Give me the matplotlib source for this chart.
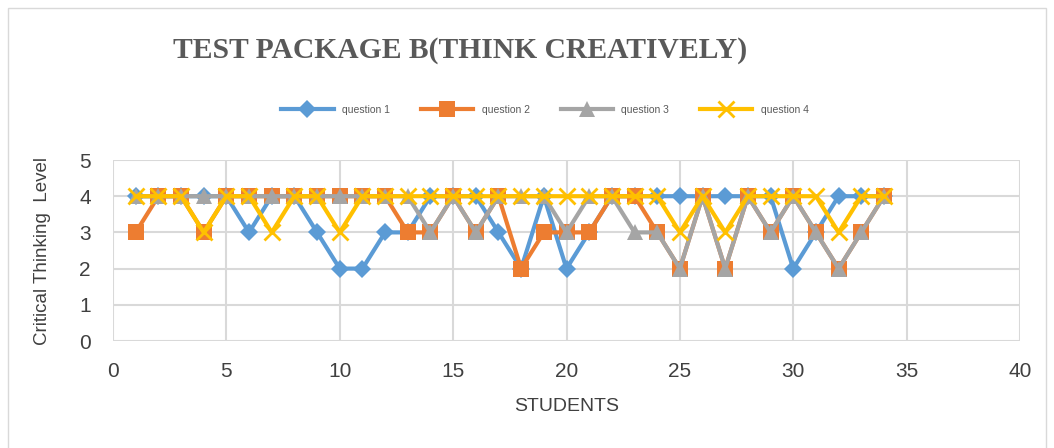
import numpy as np
import matplotlib.pyplot as plt

# data
students = list(range(1, 35))
q1 = [4, 4, 4, 4, 4, 3, 4, 4, 3, 2, 2, 3, 3, 4, 4, 4, 3, 2, 4, 2,
      3, 4, 4, 4, 4, 4, 4, 4, 4, 2, 3, 4, 4, 4]
q2 = [3, 4, 4, 3, 4, 4, 4, 4, 4, 4, 4, 4, 3, 3, 4, 3, 4, 2, 3, 3,
      3, 4, 4, 3, 2, 4, 2, 4, 3, 4, 3, 2, 3, 4]
q3 = [4, 4, 4, 4, 4, 4, 4, 4, 4, 4, 4, 4, 4, 3, 4, 3, 4, 4, 4, 3,
      4, 4, 3, 3, 2, 4, 2, 4, 3, 4, 3, 2, 3, 4]
q4 = [4, 4, 4, 3, 4, 4, 3, 4, 4, 3, 4, 4, 4, 4, 4, 4, 4, 4, 4, 4,
      4, 4, 4, 4, 3, 4, 3, 4, 4, 4, 4, 3, 4, 4]
labels = ["question 1", "question 2", "question 3", "question 4"]

colors = ["#5B9BD5", "#ED7D31", "#A5A5A5", "#FFC000"]
markers = ["D", "s", "^", "x"]
msizes = [9.5, 11.5, 11, 11]

plt.rcParams['font.family'] = ["Liberation Sans", "DejaVu Sans"]

fig = plt.figure(figsize=(10.54, 4.48), dpi=100)
ax = fig.add_axes([113/1054, 1-341/448, (1020-113)/1054, (341-160)/448])

for ys, lab, c, m, ms in zip([q1, q2, q3, q4], labels, colors, markers, msizes):
    ax.plot(students, ys, color=c, lw=3, marker=m, ms=ms, mew=2 if m == "x" else 0,
            mec=c, label=lab, clip_on=False)

ax.set_xlim(0, 40)
ax.set_ylim(0, 5)
ax.set_xticks(np.arange(0, 41, 5))
ax.set_yticks(np.arange(0, 6, 1))
ax.grid(True, color="#D9D9D9", lw=1.5)
ax.set_axisbelow(True)
for s in ax.spines.values():
    s.set_visible(False)
ax.tick_params(length=0, labelsize=15, colors="#404040")
ax.tick_params(axis="x", pad=15)
ax.tick_params(axis="y", pad=16)
ax.set_xlabel("STUDENTS", fontsize=14, color="#404040", labelpad=12)
ax.set_ylabel("Critical Thinking  Level", fontsize=13.5, color="#404040", labelpad=20)

fig.text(173/1054, 1-50/448, "TEST PACKAGE B(THINK CREATIVELY)", fontsize=21.3,
         fontweight="bold", family="Liberation Serif", color="#595959", va="center")
fig.legend(loc="center", bbox_to_anchor=(545/1054, 1-110/448), ncol=4, frameon=False,
           fontsize=7.5, handlelength=5, columnspacing=3, labelcolor="#595959")

# outer border
fig.patches.append(plt.Rectangle((8/1054, -0.01), 1038/1054, 1.01 - 8/448,
                                 transform=fig.transFigure, fill=False, ec="#D9D9D9", lw=1))

fig.savefig("out.png", dpi=100)
